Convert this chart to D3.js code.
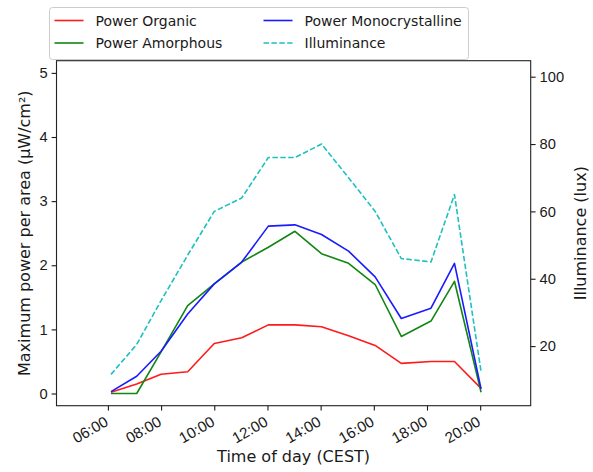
<!DOCTYPE html>
<html>
<head>
<meta charset="utf-8">
<script src="https://cdn.jsdelivr.net/npm/d3@7"></script>
<style>
  html, body { margin: 0; padding: 0; background: #fff; }
  svg { display: block; font-family: "DejaVu Sans", sans-serif; }
  .tick text { fill: #1a1a1a; }
  .tick line { stroke: #1a1a1a; }
</style>
</head>
<body>
<svg id="chart" width="593" height="472"></svg>
<script>
// Measurement times (CEST) and values per sensor
const times = ["06:07", "07:05", "08:00", "09:00", "10:00", "11:02", "12:02", "13:02",
               "14:02", "15:03", "16:03", "17:02", "18:09", "19:02", "20:02"];
const powerOrganic = [0.02, 0.15, 0.30, 0.34, 0.78, 0.87, 1.07, 1.07, 1.04, 0.90, 0.75, 0.47, 0.50, 0.50, 0.08];
const powerAmorphous = [0.00, 0.00, 0.65, 1.37, 1.71, 2.05, 2.28, 2.53, 2.18, 2.03, 1.70, 0.89, 1.13, 1.75, 0.02];
const powerMono = [0.03, 0.27, 0.66, 1.24, 1.71, 2.05, 2.61, 2.63, 2.48, 2.22, 1.82, 1.17, 1.33, 2.03, 0.07];
const illuminance = [11.6, 20.5, 33.5, 47, 60, 64, 76, 76, 80, 70, 60, 46, 45, 65, 12.4];

const powerTicks = [0, 1, 2, 3, 4, 5];
const luxTicks = [20, 40, 60, 80, 100];
const hourTicks = ["06:00", "08:00", "10:00", "12:00", "14:00", "16:00", "18:00", "20:00"];

const parseTime = d3.timeParse("%H:%M");
const dates = times.map(parseTime);

const plot = { left: 56.5, right: 530.7, top: 60.7, bottom: 405.7 };
const svg = d3.select("#chart");

const x = d3.scaleTime()
  .domain([parseTime("04:04"), parseTime("21:54")])
  .range([plot.left, plot.right]);
const yPow = d3.scaleLinear().domain([-0.19, 5.19]).range([plot.bottom, plot.top]);
const yLux = d3.scaleLinear().domain([2.3, 104.75]).range([plot.bottom, plot.top]);

const ink = "#1a1a1a";
const tickFont = "14.7px";
const labelFont = "16px";

// Axes
const xAxis = svg.append("g")
  .attr("transform", `translate(0,${plot.bottom})`)
  .call(d3.axisBottom(x).tickValues(hourTicks.map(parseTime))
    .tickFormat(d3.timeFormat("%H:%M")).tickSize(4.9).tickSizeOuter(0));
xAxis.select(".domain").remove();
xAxis.selectAll(".tick text")
  .attr("font-size", "15.2px")
  .attr("text-anchor", "end")
  .attr("dy", null)
  .attr("y", 0)
  .attr("transform", "translate(1,19) rotate(-30)");

const yAxisL = svg.append("g")
  .attr("transform", `translate(${plot.left},0)`)
  .call(d3.axisLeft(yPow).tickValues(powerTicks).tickFormat(d3.format("d"))
    .tickSize(4.9).tickPadding(4).tickSizeOuter(0));
yAxisL.select(".domain").remove();
yAxisL.selectAll(".tick text").attr("font-size", tickFont);

const yAxisR = svg.append("g")
  .attr("transform", `translate(${plot.right},0)`)
  .call(d3.axisRight(yLux).tickValues(luxTicks).tickFormat(d3.format("d"))
    .tickSize(4.9).tickPadding(4).tickSizeOuter(0));
yAxisR.select(".domain").remove();
yAxisR.selectAll(".tick text").attr("font-size", tickFont);

svg.selectAll(".tick line").attr("stroke-width", 1.1);

// Series lines
const powerLine = vals => d3.line().x((d, i) => x(dates[i])).y(d => yPow(d))(vals);
const luxLine = d3.line().x((d, i) => x(dates[i])).y(d => yLux(d));

const series = [
  { name: "Power Organic", color: "#ff1a1a", path: powerLine(powerOrganic), dash: null },
  { name: "Power Amorphous", color: "#128612", path: powerLine(powerAmorphous), dash: null },
  { name: "Power Monocrystalline", color: "#1a1aff", path: powerLine(powerMono), dash: null },
  { name: "Illuminance", color: "#1fc0c0", path: luxLine(illuminance), dash: "5.5,2.4" }
];

series.forEach(s => {
  svg.append("path")
    .attr("d", s.path)
    .attr("fill", "none")
    .attr("stroke", s.color)
    .attr("stroke-width", 1.6)
    .attr("stroke-linejoin", "round")
    .attr("stroke-dasharray", s.dash);
});

// Frame
svg.append("rect")
  .attr("x", plot.left).attr("y", plot.top)
  .attr("width", plot.right - plot.left).attr("height", plot.bottom - plot.top)
  .attr("fill", "none").attr("stroke", "#222").attr("stroke-width", 1.1);

// Axis titles
svg.append("text")
  .attr("transform", `translate(24,${(plot.top + plot.bottom) / 2}) rotate(-90)`)
  .attr("text-anchor", "middle").attr("dominant-baseline", "central")
  .attr("font-size", labelFont).attr("fill", ink)
  .text("Maximum power per area (μW/cm²)");

svg.append("text")
  .attr("transform", `translate(580,${(plot.top + plot.bottom) / 2}) rotate(-90)`)
  .attr("text-anchor", "middle").attr("dominant-baseline", "central")
  .attr("font-size", labelFont).attr("fill", ink)
  .text("Illuminance (lux)");

svg.append("text")
  .attr("x", (plot.left + plot.right) / 2).attr("y", 462)
  .attr("text-anchor", "middle")
  .attr("font-size", labelFont).attr("fill", ink)
  .text("Time of day (CEST)");

// Legend: two columns, two rows
const legend = svg.append("g");
legend.append("rect")
  .attr("x", 49.5).attr("y", 7.5).attr("width", 419).attr("height", 52)
  .attr("rx", 3).attr("fill", "#fff").attr("fill-opacity", 0.8)
  .attr("stroke", "#cccccc").attr("stroke-width", 1);

const legendSlots = [
  { k: 0, col: 0, row: 0 },
  { k: 1, col: 0, row: 1 },
  { k: 2, col: 1, row: 0 },
  { k: 3, col: 1, row: 1 }
];
const colX = [54.5, 263.5];
const rowY = [20.5, 43];
legendSlots.forEach(slot => {
  const s = series[slot.k];
  const lx = colX[slot.col], ly = rowY[slot.row];
  legend.append("line")
    .attr("x1", lx).attr("x2", lx + 29).attr("y1", ly).attr("y2", ly)
    .attr("stroke", s.color).attr("stroke-width", 1.6)
    .attr("stroke-dasharray", s.dash);
  legend.append("text")
    .attr("x", lx + 41).attr("y", ly)
    .attr("dominant-baseline", "central")
    .attr("font-size", "14px").attr("fill", ink)
    .text(s.name);
});
</script>
</body>
</html>
